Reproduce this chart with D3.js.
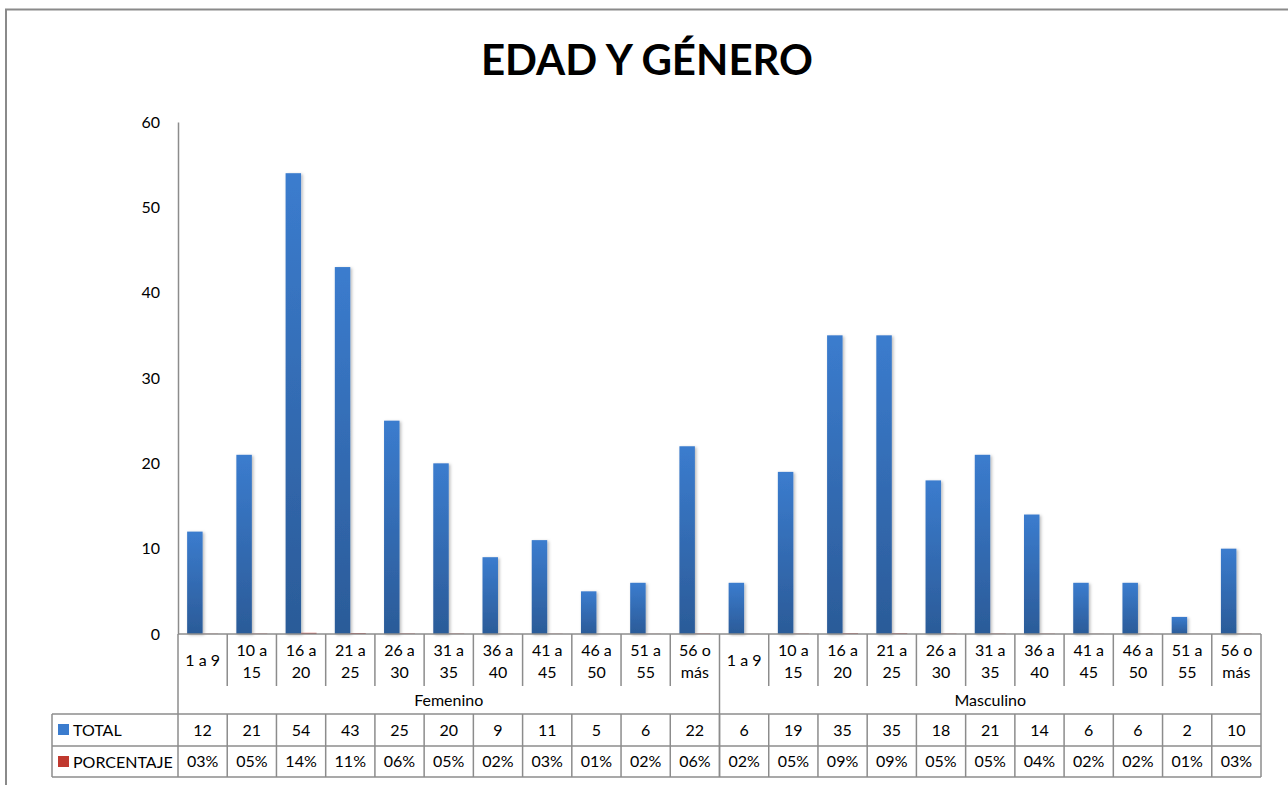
<!DOCTYPE html>
<html>
<head>
<meta charset="utf-8">
<script src="https://cdn.jsdelivr.net/npm/d3@7"></script>
<style>
  html, body { margin: 0; padding: 0; background: #fff; }
  svg { display: block; font-family: Lato, "Open Sans", sans-serif; }
</style>
</head>
<body>
<svg id="chart" width="1288" height="785"></svg>
<script>
// ---- data ----
const title = "EDAD Y GÉNERO";
const groups = ["Femenino", "Masculino"];
const ageRanges = ["1 a 9", "10 a 15", "16 a 20", "21 a 25", "26 a 30", "31 a 35", "36 a 40", "41 a 45", "46 a 50", "51 a 55", "56 o más"];
const totalFemenino = [12, 21, 54, 43, 25, 20, 9, 11, 5, 6, 22];
const totalMasculino = [6, 19, 35, 35, 18, 21, 14, 6, 6, 2, 10];
const pctFemenino = [0.03, 0.05, 0.14, 0.11, 0.06, 0.05, 0.02, 0.03, 0.01, 0.02, 0.06];
const pctMasculino = [0.02, 0.05, 0.09, 0.09, 0.05, 0.05, 0.04, 0.02, 0.02, 0.01, 0.03];
const seriesNames = ["TOTAL", "PORCENTAJE"];
const yTicks = [0, 10, 20, 30, 40, 50, 60];

// ---- build rows ----
const rows = [];
groups.forEach((g, gi) => {
  ageRanges.forEach((a, ai) => {
    rows.push({
      key: g + "|" + a, group: g, age: a,
      TOTAL: gi === 0 ? totalFemenino[ai] : totalMasculino[ai],
      PORCENTAJE: gi === 0 ? pctFemenino[ai] : pctMasculino[ai]
    });
  });
});

const svg = d3.select("#chart");
const W = 1288, H = 785;

// ---- layout ----
const plotLeft = 178, plotRight = 1261, plotTop = 122, plotBottom = 634;
const catRowBottom = 686, groupRowBottom = 714, totalRowBottom = 746, pctRowBottom = 777;
const legendLeft = 52;
const lineColor = "#8c8c8c";

// outer frame (partial, as in reference)
svg.append("path")
  .attr("d", `M6,${H} L6,9.5 L${W},9.5`)
  .attr("fill", "none").attr("stroke", "#8a8a8a").attr("stroke-width", 2);

// title
svg.append("text")
  .attr("x", 647).attr("y", 75)
  .attr("text-anchor", "middle")
  .attr("font-size", 42).attr("font-weight", 700)
  .attr("fill", "#000")
  .text(title);

// defs
const defs = svg.append("defs");
const gBlue = defs.append("linearGradient").attr("id", "gBlue").attr("x1", 0).attr("y1", 0).attr("x2", 0).attr("y2", 1);
gBlue.append("stop").attr("offset", "0%").attr("stop-color", "#3b7cce");
gBlue.append("stop").attr("offset", "100%").attr("stop-color", "#2b5b98");
const gRed = defs.append("linearGradient").attr("id", "gRed").attr("x1", 0).attr("y1", 0).attr("x2", 0).attr("y2", 1);
gRed.append("stop").attr("offset", "0%").attr("stop-color", "#d04a45");
gRed.append("stop").attr("offset", "100%").attr("stop-color", "#b0322e");
const sh = defs.append("filter").attr("id", "shadow").attr("x", "-50%").attr("y", "-5%").attr("width", "200%").attr("height", "110%");
sh.append("feDropShadow").attr("dx", 1.5).attr("dy", 1).attr("stdDeviation", 1.6)
  .attr("flood-color", "#000").attr("flood-opacity", 0.28);

const colors = { TOTAL: "url(#gBlue)", PORCENTAJE: "url(#gRed)" };
const swatch = { TOTAL: "#3b7cce", PORCENTAJE: "#c0392f" };

// scales
const x0 = d3.scaleBand().domain(rows.map(d => d.key)).range([plotLeft, plotRight]).paddingInner(0).paddingOuter(0);
const x1 = d3.scaleBand().domain(seriesNames).range([0, x0.bandwidth()]).paddingInner(0).paddingOuter(0.59);
const y = d3.scaleLinear().domain([0, 60]).range([plotBottom, plotTop]);

// y axis
const yAxis = d3.axisLeft(y).tickValues(yTicks).tickSize(0).tickPadding(18).tickFormat(d3.format("d"));
const ya = svg.append("g").attr("transform", `translate(${plotLeft},0)`).call(yAxis);
ya.select(".domain").attr("stroke", lineColor).attr("stroke-width", 1.5);
ya.selectAll("text").attr("font-size", 16).attr("fill", "#000").attr("font-family", "Lato, sans-serif");

// bars
const barG = svg.append("g");
rows.forEach(r => {
  seriesNames.forEach(s => {
    const v = r[s];
    const yy = y(v);
    barG.append("rect")
      .attr("x", x0(r.key) + x1(s))
      .attr("y", yy)
      .attr("width", x1.bandwidth())
      .attr("height", Math.max(0, plotBottom - yy))
      .attr("fill", colors[s])
      .attr("filter", s === "TOTAL" ? "url(#shadow)" : null);
  });
});

// ---- table / category axis ----
const tbl = svg.append("g").attr("stroke", lineColor).attr("stroke-width", 1.5).attr("fill", "none");

// x axis line
tbl.append("line").attr("x1", plotLeft).attr("x2", plotRight).attr("y1", plotBottom).attr("y2", plotBottom);

// category separators (within category row)
rows.forEach((r, i) => {
  if (i === 0) return;
  const xx = x0(r.key);
  const isGroupEdge = r.age === ageRanges[0];
  tbl.append("line").attr("x1", xx).attr("x2", xx)
    .attr("y1", plotBottom).attr("y2", isGroupEdge ? pctRowBottom : catRowBottom);
});
// left and right verticals
tbl.append("line").attr("x1", plotLeft).attr("x2", plotLeft).attr("y1", plotBottom).attr("y2", pctRowBottom);
tbl.append("line").attr("x1", plotRight).attr("x2", plotRight).attr("y1", plotBottom).attr("y2", pctRowBottom);
// data rows verticals
rows.forEach((r, i) => {
  if (i === 0) return;
  const xx = x0(r.key);
  tbl.append("line").attr("x1", xx).attr("x2", xx).attr("y1", groupRowBottom).attr("y2", pctRowBottom);
});
// legend column
tbl.append("line").attr("x1", legendLeft).attr("x2", legendLeft).attr("y1", groupRowBottom).attr("y2", pctRowBottom);
[groupRowBottom, totalRowBottom, pctRowBottom].forEach(yy => {
  tbl.append("line").attr("x1", legendLeft).attr("x2", plotRight).attr("y1", yy).attr("y2", yy);
});

// category labels
const labG = svg.append("g").attr("font-size", 16).attr("fill", "#000").attr("text-anchor", "middle");
rows.forEach(r => {
  const cx = x0(r.key) + x0.bandwidth() / 2;
  const parts = r.age.split(" ");
  let lines;
  if (parts.length === 3 && r.age !== "1 a 9") lines = [parts[0] + " " + parts[1], parts[2]];
  else lines = [r.age];
  if (lines.length === 1) {
    labG.append("text").attr("x", cx).attr("y", 666).text(lines[0]);
  } else {
    labG.append("text").attr("x", cx).attr("y", 656).text(lines[0]);
    labG.append("text").attr("x", cx).attr("y", 678).text(lines[1]);
  }
});
// group labels
groups.forEach(g => {
  const ks = rows.filter(r => r.group === g);
  const a = x0(ks[0].key), b = x0(ks[ks.length - 1].key) + x0.bandwidth();
  labG.append("text").attr("x", (a + b) / 2).attr("y", 706).text(g);
});
// data values
const fmtPct = v => d3.format("02d")(Math.round(v * 100)) + "%";
rows.forEach(r => {
  const cx = x0(r.key) + x0.bandwidth() / 2;
  labG.append("text").attr("x", cx).attr("y", 736).text(d3.format("d")(r.TOTAL));
  labG.append("text").attr("x", cx).attr("y", 767).text(fmtPct(r.PORCENTAJE));
});
// legend
seriesNames.forEach((s, i) => {
  const top = i === 0 ? groupRowBottom : totalRowBottom;
  svg.append("rect").attr("x", 58).attr("y", top + 10).attr("width", 11).attr("height", 11).attr("fill", swatch[s]);
  svg.append("text").attr("x", 73).attr("y", top + 22).attr("font-size", 16).attr("fill", "#000").text(s);
});
</script>
</body>
</html>
